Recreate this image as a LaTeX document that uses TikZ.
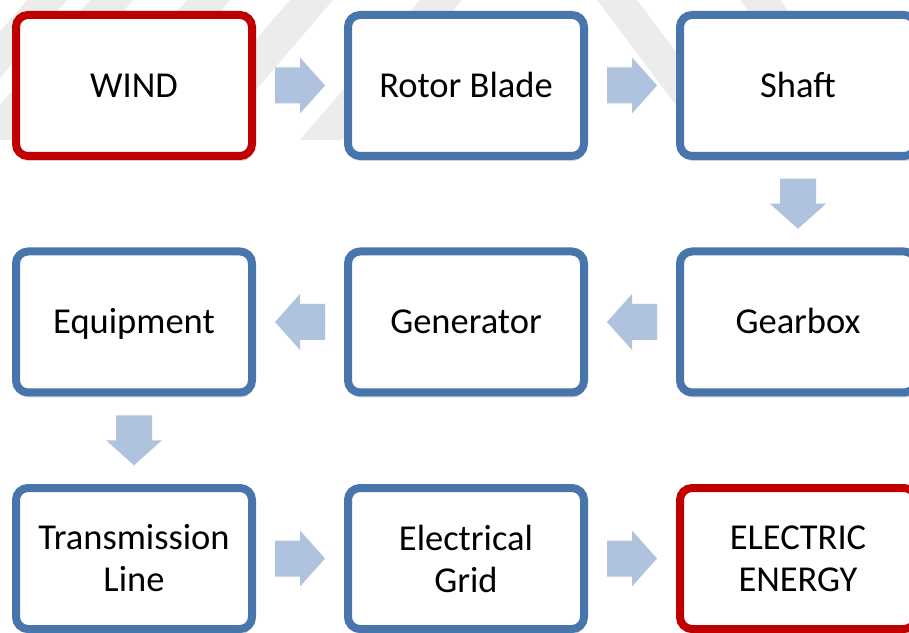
\documentclass[tikz,border=0pt]{standalone}
\usepackage{fontspec}
\setmainfont{Carlito}
\usetikzlibrary{calc,shadows}
\definecolor{boxred}{HTML}{C00000}
\definecolor{boxblue}{HTML}{4875AC}
\definecolor{arrowfill}{HTML}{AFC2DE}
\definecolor{wmark}{HTML}{ECECEC}
\newcommand\blkarrow[3]{%
  \path (#1) -- (#2) coordinate[midway] (amid);
  \fill[arrowfill, shift={(amid)}, rotate=#3]
    (-25,-18) -- (0,-18) -- (0,-28) -- (25,0) -- (0,28) -- (0,18) -- (-25,18) -- cycle;}
\begin{document}
\begin{tikzpicture}[x=1pt,y=1pt,
  flowbox/.style={draw, line width=8pt, rounded corners=12pt, fill=white,
    minimum width=236pt, minimum height=141pt, align=center, inner sep=0pt,
    font=\fontsize{36.5}{42}\selectfont,
    drop shadow={shadow xshift=1pt, shadow yshift=-5pt, opacity=0.18, fill=black}},
  oneline/.style={text height=30pt, text depth=6pt},
  redbox/.style={flowbox, draw=boxred},
  bluebox/.style={flowbox, draw=boxblue}]
\useasboundingbox (0,0) rectangle (909,632);
\clip (0,0) rectangle (909,632);
\fill[white] (0,0) rectangle (909,632);
% faint watermark stripes
\begin{scope}
\clip (0,492) rectangle (909,632);
\foreach \a/\b in {27/67, 90/133, 187/230, 290/333, 420/462}
  \fill[wmark] (\a,632) -- (\b,632) -- (\b-120,492) -- (\a-120,492) -- cycle;
\foreach \a/\b in {597/637, 740/780}
  \fill[wmark] (\a,632) -- (\b,632) -- (\b+105,492) -- (\a+105,492) -- cycle;
\end{scope}
% boxes
\node[redbox, oneline]  (wind)  at (134,546.5) {WIND};
\node[bluebox, oneline] (rotor) at (466,546.5) {Rotor Blade};
\node[bluebox, oneline] (shaft) at (798,546.5) {Shaft};
\node[bluebox, oneline] (equip) at (134,310) {Equipment};
\node[bluebox, oneline] (gen)   at (466,310) {Generator};
\node[bluebox, oneline] (gear)  at (798,310) {Gearbox};
\node[bluebox] (trans) at (134,73.5) {Transmission\\Line};
\node[bluebox] (grid)  at (466,73.5) {Electrical\\Grid};
\node[redbox]  (elec)  at (798,73.5) {ELECTRIC\\ENERGY};
% arrows
\blkarrow{wind.east}{rotor.west}{0}
\blkarrow{rotor.east}{shaft.west}{0}
\blkarrow{shaft.south}{gear.north}{-90}
\blkarrow{gear.west}{gen.east}{180}
\blkarrow{gen.west}{equip.east}{180}
\blkarrow{equip.south}{trans.north}{-90}
\blkarrow{trans.east}{grid.west}{0}
\blkarrow{grid.east}{elec.west}{0}
\end{tikzpicture}
\end{document}
